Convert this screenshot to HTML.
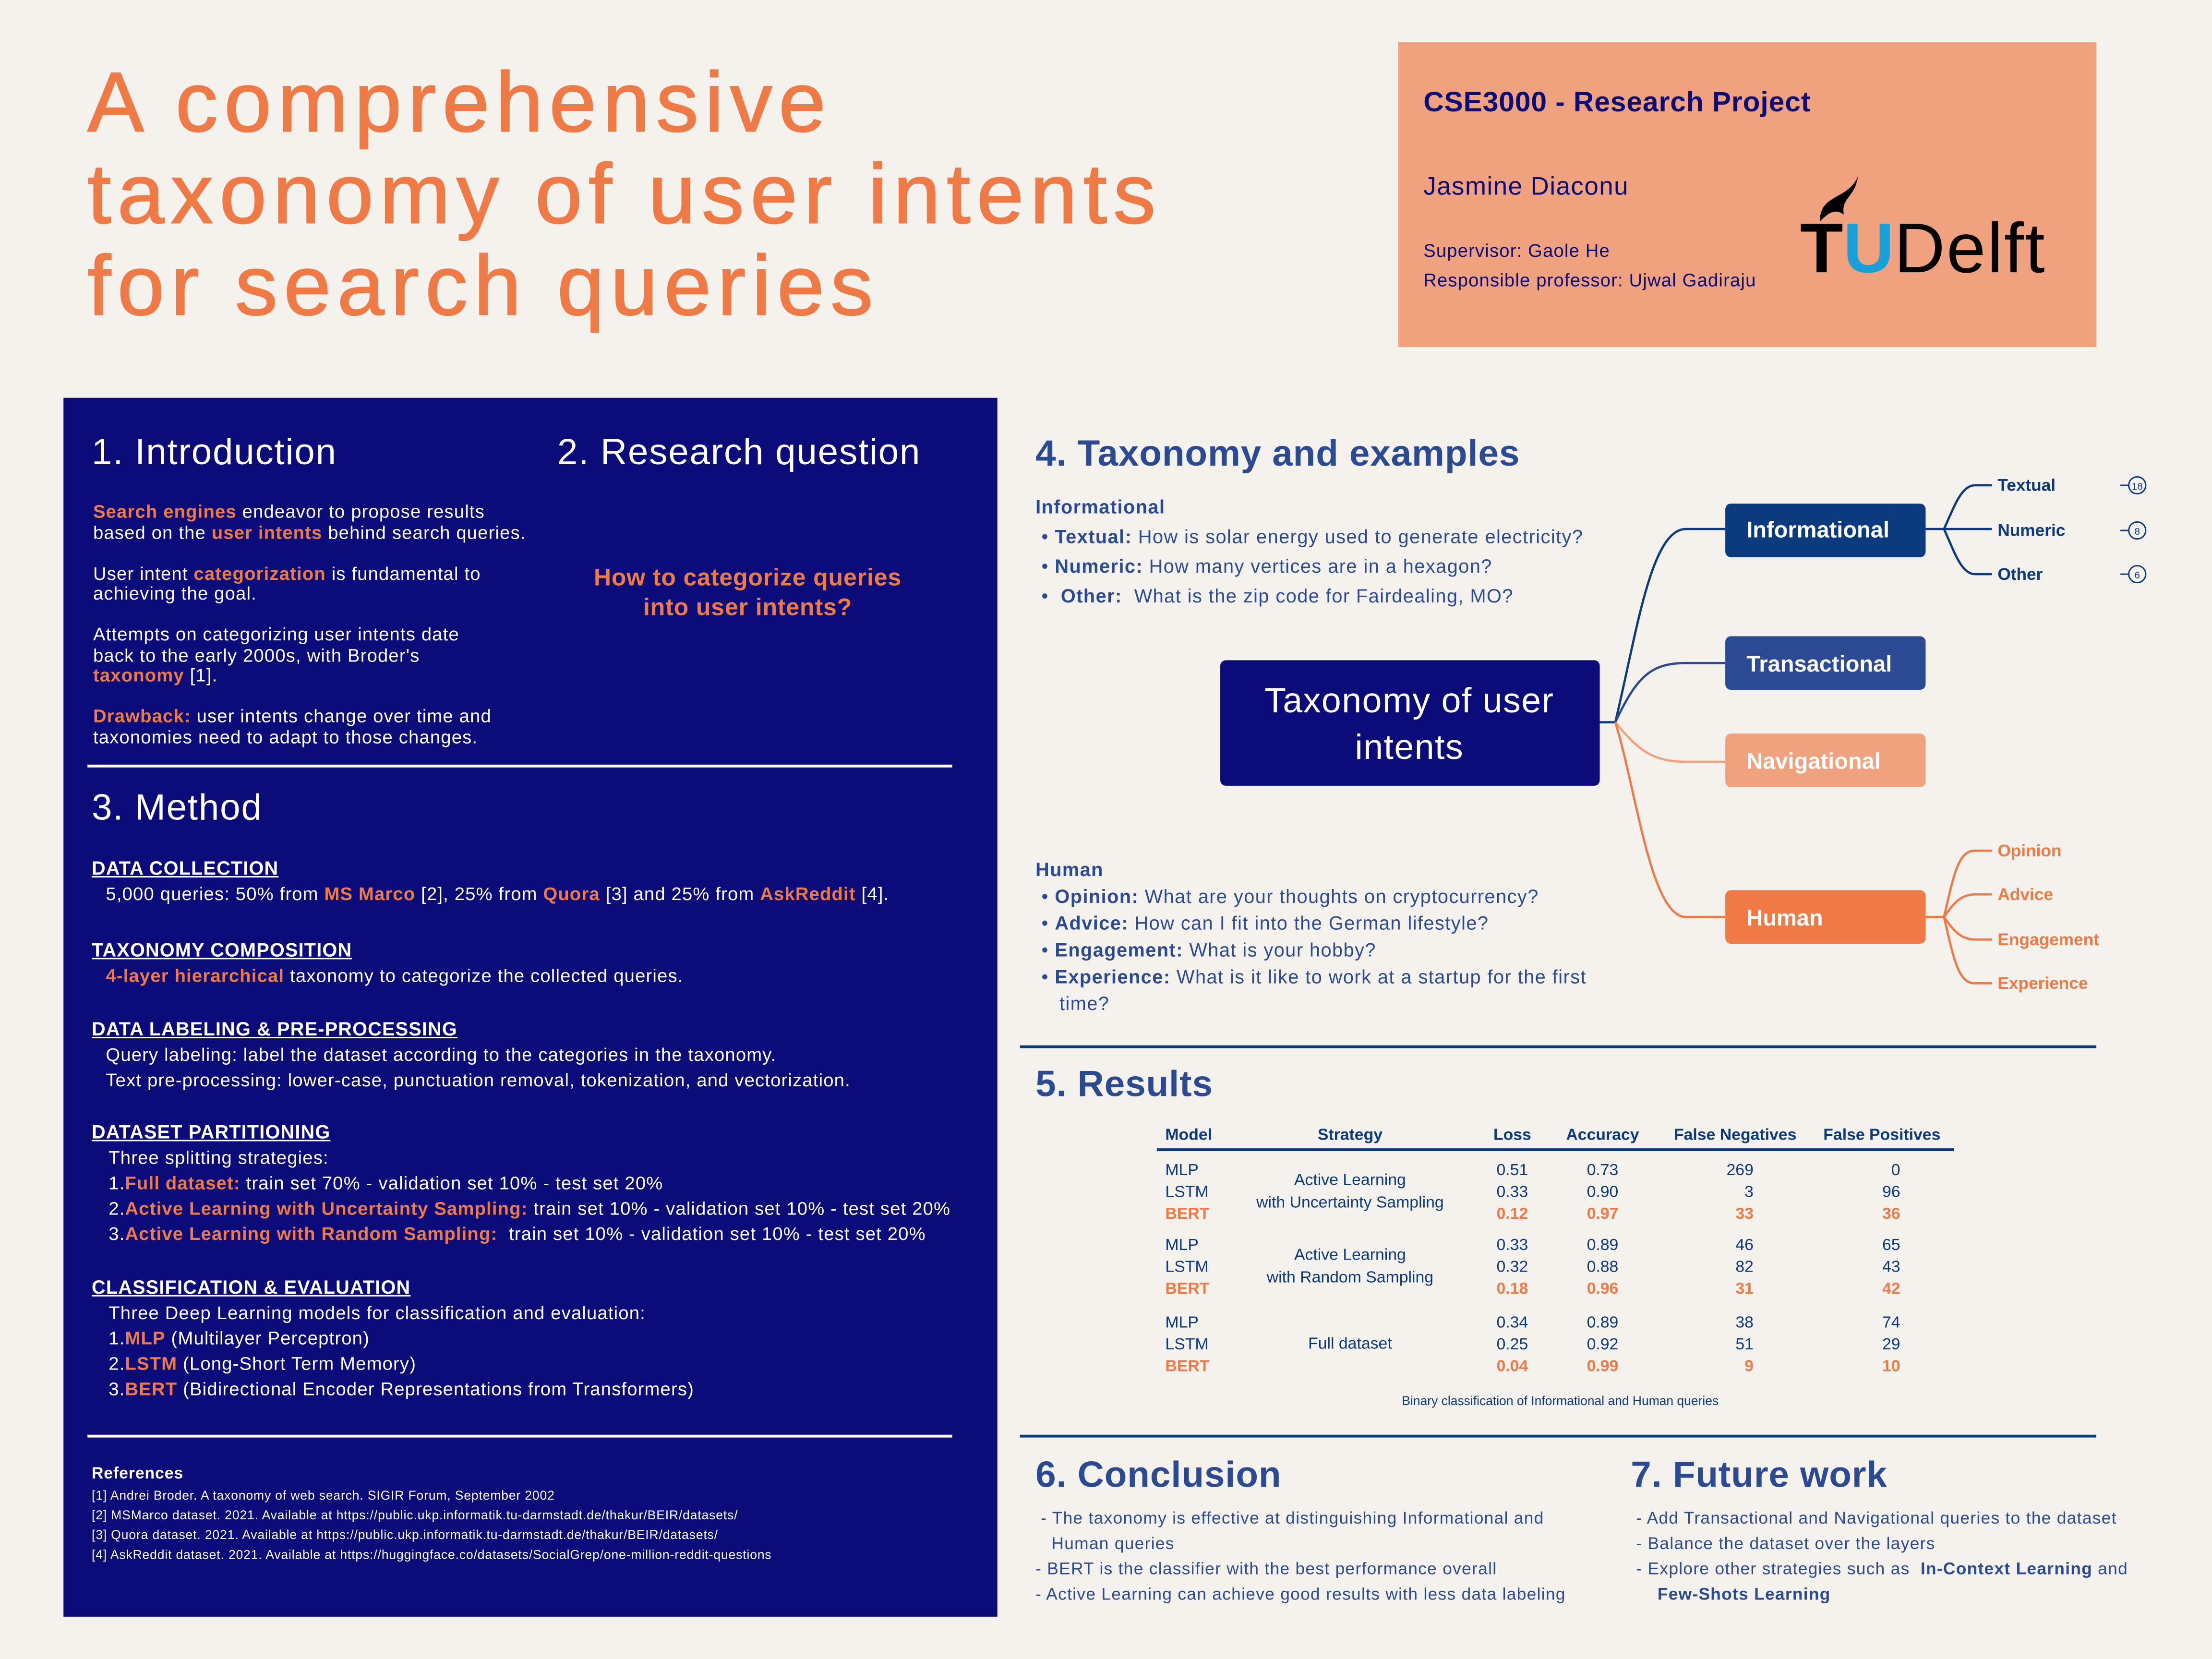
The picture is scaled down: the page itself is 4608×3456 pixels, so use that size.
<!DOCTYPE html>
<html><head><meta charset="utf-8">
<style>
html,body{margin:0;padding:0;background:#f5f2ee;}
body{width:4608px;height:3456px;overflow:hidden;}
#root{position:absolute;left:0;top:0;width:1568px;height:1176px;transform:scale(2.93878);transform-origin:0 0;font-family:"Liberation Sans",sans-serif;}
.a{position:absolute;white-space:nowrap;}
.o{color:#f07a45;font-weight:bold;}
.w{color:#fff;}
.pt{font-size:13px;line-height:14.5px;color:#fff;letter-spacing:0.4px;}
.h{color:#fff;font-size:13.5px;font-weight:bold;text-decoration:underline;}
.bl{color:#2a4a94;}
.sec{font-size:26px;font-weight:bold;color:#2a4a94;letter-spacing:0.3px;}
</style></head><body>
<div id="root">
<div class="a" style="left:62px;top:40px;font-size:60px;line-height:65px;color:#f07a45;letter-spacing:4.5px;-webkit-text-stroke:0.8px #f07a45;">A comprehensive<br>taxonomy of user intents<br>for search queries</div>

<div class="a" style="left:991px;top:30px;width:495px;height:216px;background:#f0a27f;"></div>
<div class="a" style="left:1009px;top:62px;font-size:20px;font-weight:bold;color:#0b0b7a;letter-spacing:0.3px;">CSE3000 - Research Project</div>
<div class="a" style="left:1009px;top:122px;font-size:18px;color:#0b0b7a;letter-spacing:0.5px;">Jasmine Diaconu</div>
<div class="a" style="left:1009px;top:167px;font-size:13px;line-height:21px;color:#0b0b7a;letter-spacing:0.4px;">Supervisor: Gaole He<br>Responsible professor: Ujwal Gadiraju</div>
<div class="a" style="left:1276px;top:150px;font-size:50px;line-height:52px;font-weight:bold;"><span style="color:#000">T</span><span style="color:#1aa0d8">U</span><span style="color:#000;font-weight:normal;letter-spacing:1px">Delft</span></div>
<svg class="a" style="left:1285px;top:122px" width="40" height="40"><path d="M5 35 C5 15 25 20 32 3 C30 18 20 18 22 30 C16 26 12 28 5 35Z" fill="#000"/></svg>

<div class="a" style="left:45px;top:282px;width:662px;height:864px;background:#0b0b7a;"></div>
<div class="a w" style="left:65px;top:305px;font-size:26px;letter-spacing:0.6px;">1. Introduction</div>
<div class="a pt" style="left:66px;top:356px;">
<span class="o">Search engines</span> endeavor to propose results<br>based on the <span class="o">user intents</span> behind search queries.<br><br style="line-height:8px">
User intent <span class="o">categorization</span> is fundamental to<br>achieving the goal.<br><br>
Attempts on categorizing user intents date<br>back to the early 2000s, with Broder's<br><span class="o">taxonomy</span> [1].<br><br>
<span class="o">Drawback:</span> user intents change over time and<br>taxonomies need to adapt to those changes.</div>
<div class="a w" style="left:395px;top:305px;font-size:26px;letter-spacing:0.6px;">2. Research question</div>
<div class="a o" style="left:395px;top:399px;width:270px;text-align:center;font-size:17px;line-height:21px;letter-spacing:0.3px;">How to categorize queries<br>into user intents?</div>
<div class="a" style="left:62px;top:542px;width:613px;height:2px;background:#fff;"></div>
<div class="a w" style="left:65px;top:557px;font-size:26px;letter-spacing:0.6px;">3. Method</div>
<div class="a" style="left:65px;top:607px;font-size:13px;line-height:18px;color:#fff;letter-spacing:0.4px;">
<div class="h">DATA COLLECTION</div>
<div style="padding-left:10px">5,000 queries: 50% from <span class="o">MS Marco</span> [2], 25% from <span class="o">Quora</span> [3] and 25% from <span class="o">AskReddit</span> [4].</div>
<div style="height:22px"></div>
<div class="h">TAXONOMY COMPOSITION</div>
<div style="padding-left:10px"><span class="o">4-layer hierarchical</span> taxonomy to categorize the collected queries.</div>
<div style="height:20px"></div>
<div class="h">DATA LABELING &amp; PRE-PROCESSING</div>
<div style="padding-left:10px">Query labeling: label the dataset according to the categories in the taxonomy.<br>Text pre-processing: lower-case, punctuation removal, tokenization, and vectorization.</div>
<div style="height:19px"></div>
<div class="h">DATASET PARTITIONING</div>
<div style="padding-left:12px">Three splitting strategies:<br>1.<span class="o">Full dataset:</span> train set 70% - validation set 10% - test set 20%<br>2.<span class="o">Active Learning with Uncertainty Sampling:</span> train set 10% - validation set 10% - test set 20%<br>3.<span class="o">Active Learning with Random Sampling:</span>&nbsp; train set 10% - validation set 10% - test set 20%</div>
<div style="height:20px"></div>
<div class="h">CLASSIFICATION &amp; EVALUATION</div>
<div style="padding-left:12px">Three Deep Learning models for classification and evaluation:<br>1.<span class="o">MLP</span> (Multilayer Perceptron)<br>2.<span class="o">LSTM</span> (Long-Short Term Memory)<br>3.<span class="o">BERT</span> (Bidirectional Encoder Representations from Transformers)</div>
</div>
<div class="a" style="left:62px;top:1017px;width:613px;height:2px;background:#fff;"></div>
<div class="a" style="left:65px;top:1037px;font-size:9px;line-height:14px;color:#fff;letter-spacing:0.3px;">
<div style="font-size:11.5px;font-weight:bold;line-height:16px;">References</div>
[1] Andrei Broder. A taxonomy of web search. SIGIR Forum, September 2002<br>
[2] MSMarco dataset. 2021. Available at https://public.ukp.informatik.tu-darmstadt.de/thakur/BEIR/datasets/<br>
[3] Quora dataset. 2021. Available at https://public.ukp.informatik.tu-darmstadt.de/thakur/BEIR/datasets/<br>
[4] AskReddit dataset. 2021. Available at https://huggingface.co/datasets/SocialGrep/one-million-reddit-questions</div>

<div class="a sec" style="left:734px;top:306px;">4. Taxonomy and examples</div>
<div class="a bl" style="left:734px;top:349px;font-size:13.5px;line-height:21px;letter-spacing:0.5px;">
<b>Informational</b><br>
&nbsp;• <b>Textual:</b> How is solar energy used to generate electricity?<br>
&nbsp;• <b>Numeric:</b> How many vertices are in a hexagon?<br>
&nbsp;• &nbsp;<b>Other:</b>&nbsp; What is the zip code for Fairdealing, MO?</div>
<div class="a bl" style="left:734px;top:607px;font-size:13.5px;line-height:19px;letter-spacing:0.5px;">
<b>Human</b><br>
&nbsp;• <b>Opinion:</b> What are your thoughts on cryptocurrency?<br>
&nbsp;• <b>Advice:</b> How can I fit into the German lifestyle?<br>
&nbsp;• <b>Engagement:</b> What is your hobby?<br>
&nbsp;• <b>Experience:</b> What is it like to work at a startup for the first<br>&nbsp;&nbsp;&nbsp;&nbsp;time?</div>

<svg class="a" style="left:0;top:0" width="1568" height="1176" font-family="Liberation Sans, sans-serif">
<g fill="none" stroke-width="1.6">
<path d="M1134 512 L1145 512 C1160 450 1170 375 1195 375 L1223 375" stroke="#0c3a7e"/>
<path d="M1145 512 C1160 480 1170 470 1195 470 L1223 470" stroke="#2c4a94"/>
<path d="M1145 512 C1160 530 1170 540 1195 540 L1223 540" stroke="#f0a27f"/>
<path d="M1145 512 C1160 560 1170 650 1195 650 L1223 650" stroke="#f07a45"/>
<path d="M1365 375 L1378 375 C1385 360 1390 344 1400 344 L1412 344 M1378 375 L1412 375 M1378 375 C1385 390 1390 407 1400 407 L1412 407" stroke="#0c3a7e"/>
<path d="M1365 650 L1378 650 C1385 620 1388 603 1400 603 L1412 603 M1378 650 C1385 640 1390 634 1400 634 L1412 634 M1378 650 C1385 660 1390 666 1400 666 L1412 666 M1378 650 C1385 680 1388 697 1400 697 L1412 697" stroke="#f07a45"/>
</g>
<rect x="865" y="468" width="269" height="89" rx="4" fill="#0b0b7a"/>
<text x="999" y="505" text-anchor="middle" fill="#fff" font-size="25" letter-spacing="0.5">Taxonomy of user</text>
<text x="999" y="538" text-anchor="middle" fill="#fff" font-size="25" letter-spacing="0.5">intents</text>
<rect x="1223" y="357" width="142" height="38" rx="4" fill="#0c3a7e"/>
<text x="1238" y="381" fill="#fff" font-size="16" font-weight="bold">Informational</text>
<rect x="1223" y="451" width="142" height="38" rx="4" fill="#2c4a94"/>
<text x="1238" y="476" fill="#fff" font-size="16" font-weight="bold">Transactional</text>
<rect x="1223" y="520" width="142" height="38" rx="4" fill="#f0a27f"/>
<text x="1238" y="545" fill="#fff" font-size="16" font-weight="bold">Navigational</text>
<rect x="1223" y="631" width="142" height="38" rx="4" fill="#f07a45"/>
<text x="1238" y="656" fill="#fff" font-size="16" font-weight="bold">Human</text>
<g font-size="12" font-weight="bold" fill="#0c3a7e">
<text x="1416" y="348">Textual</text><text x="1416" y="380">Numeric</text><text x="1416" y="411">Other</text>
</g>
<g fill="none" stroke="#0c3a7e" stroke-width="1">
<circle cx="1515" cy="344" r="6"/><circle cx="1515" cy="376" r="6"/><circle cx="1515" cy="407" r="6"/>
<path d="M1503 344 H1509 M1503 376 H1509 M1503 407 H1509"/>
</g>
<g font-size="7" fill="#0c3a7e" text-anchor="middle"><text x="1515" y="347">18</text><text x="1515" y="379">8</text><text x="1515" y="410">6</text></g>
<g font-size="12" font-weight="bold" fill="#f07a45">
<text x="1416" y="607">Opinion</text><text x="1416" y="638">Advice</text><text x="1416" y="670">Engagement</text><text x="1416" y="701">Experience</text>
</g>
</svg>

<div class="a" style="left:723px;top:741px;width:763px;height:2px;background:#0c3a7e;"></div>
<div class="a sec" style="left:734px;top:753px;">5. Results</div>
<svg class="a" id="tbl" style="left:0;top:0" width="1568" height="1176" font-family="Liberation Sans, sans-serif"></svg>

<div class="a" style="left:723px;top:1017px;width:763px;height:2px;background:#0c3a7e;"></div>
<div class="a sec" style="left:734px;top:1030px;">6. Conclusion</div>
<div class="a bl" style="left:734px;top:1067px;font-size:12px;line-height:18px;letter-spacing:0.45px;">
&nbsp;- The taxonomy is effective at distinguishing Informational and<br>&nbsp;&nbsp;&nbsp;Human queries<br>
- BERT is the classifier with the best performance overall<br>
- Active Learning can achieve good results with less data labeling</div>
<div class="a sec" style="left:1156px;top:1030px;">7. Future work</div>
<div class="a bl" style="left:1156px;top:1067px;font-size:12px;line-height:18px;letter-spacing:0.45px;">
&nbsp;- Add Transactional and Navigational queries to the dataset<br>
&nbsp;- Balance the dataset over the layers<br>
&nbsp;- Explore other strategies such as &nbsp;<b>In-Context Learning</b> and<br>&nbsp;&nbsp;&nbsp;&nbsp;&nbsp;<b>Few-Shots Learning</b></div>
</div>
<script>
const headers=["Model","Strategy","Loss","Accuracy","False Negatives","False Positives"];
const strategies=[["Active Learning","with Uncertainty Sampling"],["Active Learning","with Random Sampling"],["Full dataset"]];
const models=["MLP","LSTM","BERT"];
const loss=[["0.51","0.33","0.12"],["0.33","0.32","0.18"],["0.34","0.25","0.04"]];
const acc=[["0.73","0.90","0.97"],["0.89","0.88","0.96"],["0.89","0.92","0.99"]];
const fneg=[["269","3","33"],["46","82","31"],["38","51","9"]];
const fpos=[["0","96","36"],["65","43","42"],["74","29","10"]];
const svg=document.getElementById('tbl');
const NS="http://www.w3.org/2000/svg";
function t(x,y,s,anchor,col,bold,size){const e=document.createElementNS(NS,'text');e.setAttribute('x',x);e.setAttribute('y',y);e.setAttribute('text-anchor',anchor);e.setAttribute('fill',col);e.setAttribute('font-size',size||11.5);if(bold)e.setAttribute('font-weight','bold');e.textContent=s;svg.appendChild(e);return e;}
const hx=[826,957,1072,1136,1230,1334],ha=['start','middle','middle','middle','middle','middle'];
headers.forEach((h,i)=>{const e=t(hx[i],808,h,ha[i],'#0c3a7e',true,11.5);

});
const ln=document.createElementNS(NS,'rect');ln.setAttribute('x',820);ln.setAttribute('y',814);ln.setAttribute('width',565);ln.setAttribute('height',2);ln.setAttribute('fill','#0c3a7e');


svg.appendChild(ln);
const gy=[833,886,941];
strategies.forEach((st,g)=>{
  const cy=gy[g]+15;
  st.forEach((s,k)=>{const e=t(957,cy-(st.length-1)*8+k*16,s,'middle','#0c3a7e',false,11.5);
  
  });
  models.forEach((m,r)=>{
    const y=gy[g]+r*15.5;const col=r==2?'#f07a45':'#0c3a7e';const b=r==2;
    let e=t(826,y,m,'start',col,b);
    
    
    e=t(1072,y,loss[g][r],'middle',col,b);
    
    
    e=t(1136,y,acc[g][r],'middle',col,b);
    
    
    e=t(1243,y,fneg[g][r],'end',col,b);
    
    
    e=t(1347,y,fpos[g][r],'end',col,b);
    
    
  });
});
const cap=t(1106,996,'Binary classification of Informational and Human queries','middle','#0c3a7e',false,9);


</script>
</body></html>
